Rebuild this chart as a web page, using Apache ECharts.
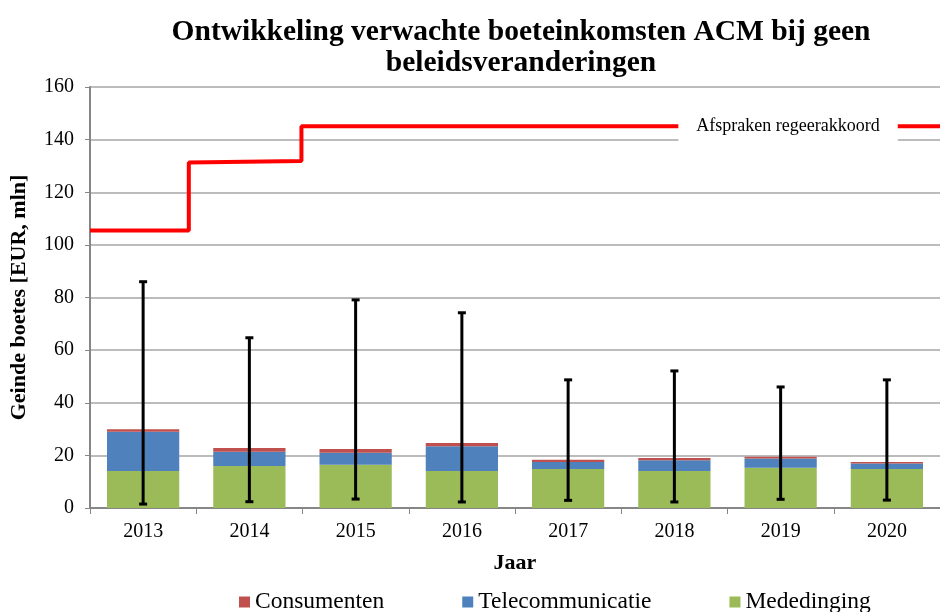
<!DOCTYPE html>
<html><head><meta charset="utf-8">
<script src="https://cdn.jsdelivr.net/npm/echarts@6/dist/echarts.min.js"></script>
<style>html,body{margin:0;padding:0;background:#fff}#c{width:940px;height:612px}</style>
</head><body><div id="c"></div>
<script>
const years = ['2013','2014','2015','2016','2017','2018','2019','2020'];
const mededinging = [14.1, 16.0, 16.4, 14.1, 14.8, 14.1, 15.3, 14.8];
const telecom = [14.9, 5.4, 4.6, 9.4, 2.7, 4.0, 3.5, 2.1];
const consumenten = [0.9, 1.4, 1.4, 1.2, 0.8, 0.9, 0.7, 0.6];
const errLow = [1.5, 2.4, 3.4, 2.3, 2.9, 2.3, 3.3, 3.0];
const errHigh = [86.0, 64.7, 79.1, 74.2, 48.7, 52.1, 46.0, 48.7];
// step line: [position on 0..8 scale, value]
const regeerX = [0, 0.93, 0.93, 1.99, 1.99, 8];
const regeerY = [105.5, 105.5, 131.3, 131.9, 145.1, 145.1];
const regeerLabel = 'Afspraken regeerakkoord';
const regeerLabelAt = [6.57, 145.1];

const font = 'Liberation Serif';
const chart = echarts.init(document.getElementById('c'), null, {renderer: 'canvas'});
chart.setOption({
  animation: false,
  title: {
    text: 'Ontwikkeling verwachte boeteinkomsten ACM bij geen\nbeleidsveranderingen',
    left: 516, top: 12, textAlign: 'center',
    textStyle: {fontFamily: font, fontWeight: 'bold', fontSize: 29.5, lineHeight: 31, color: '#000'}
  },
  legend: {
    bottom: -7, left: 234, itemWidth: 11, itemHeight: 11, itemGap: 78,
    icon: 'rect',
    data: ['Consumenten', 'Telecommunicatie', 'Mededinging'],
    textStyle: {fontFamily: font, fontSize: 23.5, color: '#000'}
  },
  grid: {left: 86, right: 0, top: 87, bottom: 104, containLabel: false},
  xAxis: [{
    type: 'category', data: years,
    axisLine: {lineStyle: {color: '#868686', width: 2}},
    axisTick: {show: true, length: 6, lineStyle: {color: '#868686', width: 1}},
    axisLabel: {fontFamily: font, fontSize: 20, color: '#000', margin: 14},
    name: 'Jaar', nameLocation: 'middle', nameGap: 44,
    nameTextStyle: {fontFamily: font, fontSize: 22, fontWeight: 'bold', color: '#000'}
  }, {
    type: 'value', min: 0, max: 8, show: false
  }],
  yAxis: {
    type: 'value', min: 0, max: 160, interval: 20,
    axisLine: {show: true, lineStyle: {color: '#868686', width: 2}},
    axisTick: {show: true, length: 5, lineStyle: {color: '#868686'}},
    splitLine: {lineStyle: {color: '#a6a6a6', width: 1.5}},
    axisLabel: {fontFamily: font, fontSize: 20, color: '#000', margin: 16},
    name: 'Geinde boetes [EUR, mln]', nameLocation: 'middle', nameGap: 60,
    nameTextStyle: {fontFamily: font, fontSize: 22, fontWeight: 'bold', color: '#000'}
  },
  series: [
    {name: 'Mededinging', type: 'bar', stack: 't', data: mededinging, barCategoryGap: '32%',
      itemStyle: {color: '#9BBB59'}},
    {name: 'Telecommunicatie', type: 'bar', stack: 't', data: telecom,
      itemStyle: {color: '#4F81BD'}},
    {name: 'Consumenten', type: 'bar', stack: 't', data: consumenten,
      itemStyle: {color: '#C0504D'}},
    {type: 'custom', name: 'err', z: 5,
      data: years.map((y, i) => [i, errLow[i], errHigh[i]]),
      renderItem: function (params, api) {
        const lo = api.coord([api.value(0), api.value(1)]);
        const hi = api.coord([api.value(0), api.value(2)]);
        const hw = 4;
        const st = {stroke: '#000', lineWidth: 3};
        return {type: 'group', children: [
          {type: 'line', shape: {x1: hi[0], y1: hi[1], x2: lo[0], y2: lo[1]}, style: st},
          {type: 'line', shape: {x1: hi[0] - hw, y1: hi[1], x2: hi[0] + hw, y2: hi[1]}, style: st},
          {type: 'line', shape: {x1: lo[0] - hw, y1: lo[1], x2: lo[0] + hw, y2: lo[1]}, style: st}
        ]};
      }
    },
    {type: 'line', name: 'regeer', xAxisIndex: 1, z: 6,
      data: regeerX.map((x, i) => [x, regeerY[i]]),
      symbol: 'none',
      lineStyle: {color: '#FF0000', width: 4},
      markPoint: {
        symbol: 'rect', symbolSize: [1, 1], itemStyle: {color: 'rgba(0,0,0,0)'},
        z: 10,
        data: [{coord: regeerLabelAt,
          label: {show: true, formatter: regeerLabel, position: 'inside',
            backgroundColor: '#fff', padding: [7, 18, 7, 18], color: '#000',
            fontFamily: font, fontSize: 18}}]
      }
    }
  ]
});
</script></body></html>
